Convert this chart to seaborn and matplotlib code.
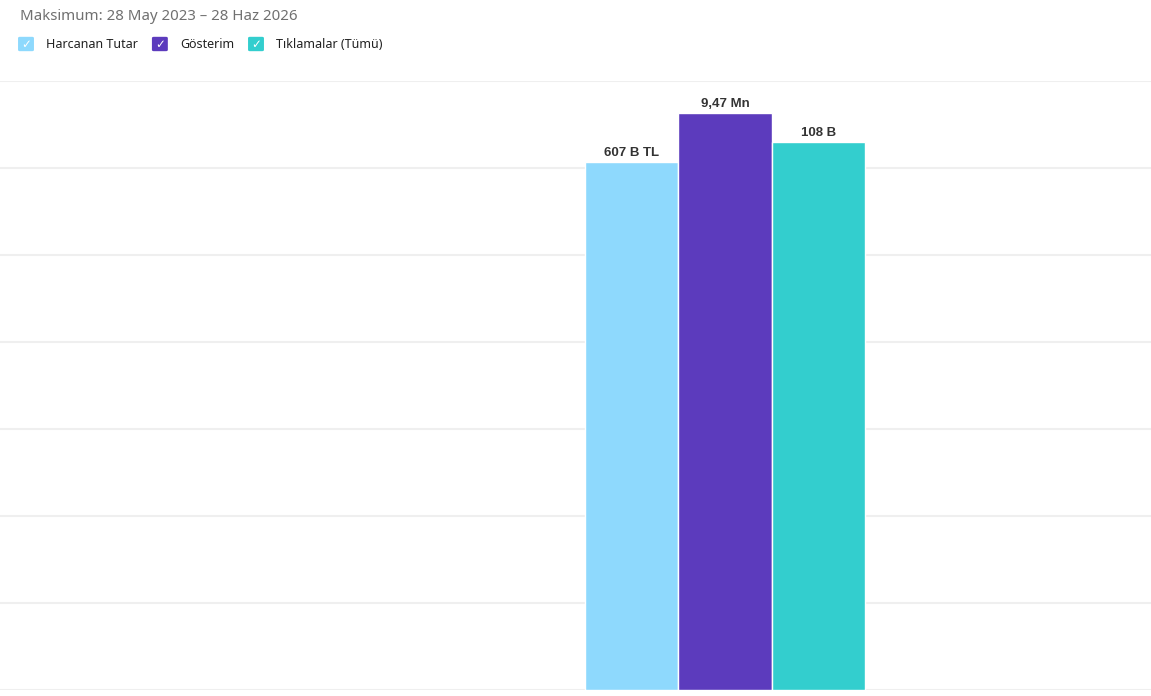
import numpy as np
import pandas as pd
import matplotlib
matplotlib.use('Agg')
import matplotlib.pyplot as plt
import seaborn as sns
from matplotlib.patches import FancyBboxPatch

# Data
series = ['Harcanan Tutar', 'Gösterim', 'Tıklamalar (Tümü)']
values = [607000, 9470000, 108000]
value_labels = ['607 B TL', '9,47 Mn', '108 B']
# each series has its own (hidden) value axis
axis_max = [700000, 10000000, 120000]
colors = ['#8ED9FD', '#5C3BBD', '#33CECE']
subtitle = 'Maksimum: 28 May 2023 – 28 Haz 2026'

df = pd.DataFrame({
    'grp': [''] * 3,
    'series': series,
    'value': values,
    'scaled': [v / m for v, m in zip(values, axis_max)],
})

sns.set_style('white')
plt.rcParams['font.family'] = ['Noto Sans', 'DejaVu Sans']

fig = plt.figure(figsize=(11.51, 6.96), dpi=100)
ax = fig.add_axes([0, 6 / 696, 1, 609 / 696])

sns.barplot(data=df, x='grp', y='scaled', hue='series', palette=colors,
            saturation=1, width=0.8, edgecolor='white', linewidth=1.0,
            legend=False, ax=ax)

ax.set_ylim(0, 1)
ax.set_xlim(-725 / 350, 426 / 350)
ax.set_yticks(np.linspace(0, 1, 8))
ax.grid(axis='y', color='#efefef', linewidth=1.5)
ax.set_axisbelow(True)
ax.set_xticks([])
ax.tick_params(left=False, labelleft=False)
ax.set_xlabel('')
ax.set_ylabel('')
for s in ax.spines.values():
    s.set_visible(False)

# value labels
for cont, lab in zip(ax.containers, value_labels):
    ax.bar_label(cont, labels=[lab], padding=2, fontsize=9.5, fontweight='bold',
                 color='#333333', family='Liberation Sans')

# subtitle
fig.text(20 / 1151, 1 - 17 / 696, subtitle, fontsize=10.8, color='#707070',
         va='center', ha='left')

# legend with check boxes
fig.canvas.draw()
renderer = fig.canvas.get_renderer()
x = 19
yc = 44
for name, c in zip(series, colors):
    box = FancyBboxPatch(((x + 1) / 1151, (696 - yc - 6) / 696), 12 / 1151, 12 / 696,
                         boxstyle='round,pad=0.0017', transform=fig.transFigure,
                         facecolor=c, edgecolor='none')
    fig.patches.append(box)
    fig.text((x + 7) / 1151, 1 - (yc + 0.5) / 696, '✓', color='white', fontsize=8.5,
             ha='center', va='center', family='DejaVu Sans')
    t = fig.text((x + 27) / 1151, 1 - yc / 696, name, fontsize=9.0, color='#222222',
                 ha='left', va='center')
    w = t.get_window_extent(renderer=renderer).width
    x = x + 27 + w + 15

fig.savefig('out.png', dpi=100, facecolor='white')
